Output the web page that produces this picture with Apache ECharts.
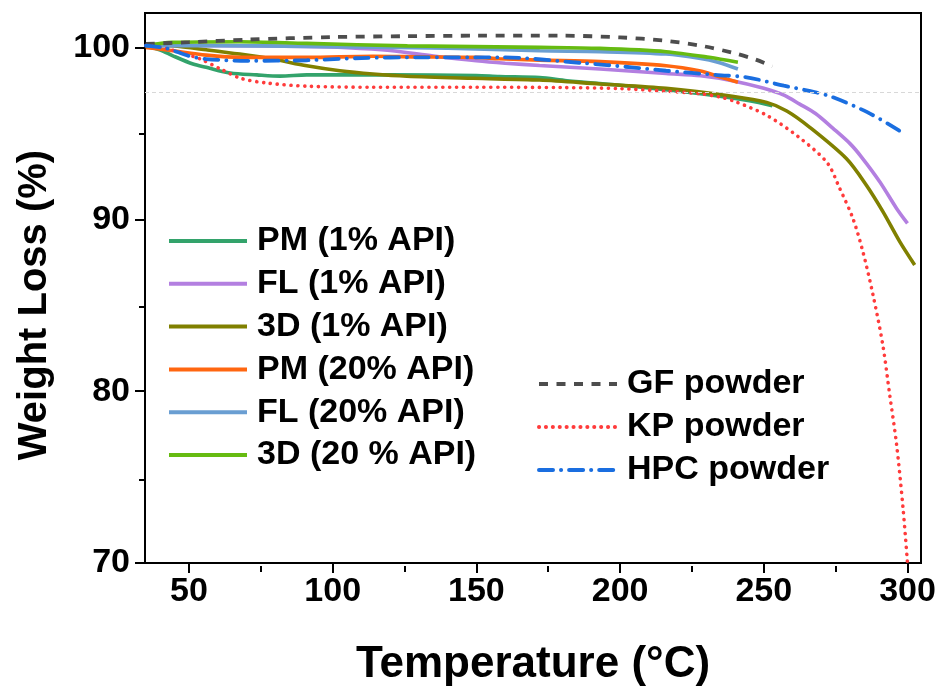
<!DOCTYPE html>
<html>
<head>
<meta charset="utf-8">
<script src="https://cdn.jsdelivr.net/npm/echarts@6/dist/echarts.min.js"></script>
<style>html,body{margin:0;padding:0;background:#fff;}#c{width:940px;height:692px;}</style>
</head>
<body>
<div id="c"></div>
<script>
// ---- data (temperature °C, weight %) ----
const xTicks = [50, 100, 150, 200, 250, 300];
const xMinorTicks = [75, 125, 175, 225, 275];
const yTicks = [70, 80, 90, 100];
const yMinorTicks = [75, 85, 95];
const refLine = 97.4;

const seriesNames = ['PM (1% API)', 'FL (1% API)', '3D (1% API)', 'PM (20% API)', 'FL (20% API)', '3D (20 % API)'];
const powderNames = ['GF powder', 'KP powder', 'HPC powder'];

const pm1 = [[35,100.05],[40,99.85],[44.4,99.51],[51.4,99.03],[56,98.84],[64.3,98.51],[73.6,98.4],[81.7,98.33],[91,98.4],[120,98.4],[150,98.36],[158,98.3],[172,98.24],[181.5,98.06],[204,97.74],[228,97.3],[245,96.9],[253,96.61]];
const fl1 = [[35,100.1],[60,100.1],[90,100.05],[105,99.98],[120,99.82],[135,99.5],[150,99.22],[160,99.08],[172,98.95],[193,98.74],[216,98.48],[228,98.35],[239,98.06],[250,97.62],[257,97.22],[262.5,96.7],[268,96.15],[274,95.3],[280,94.4],[284,93.62],[290.4,92.17],[296.2,90.63],[300,89.76]];
const d3_1 = [[35,100.2],[44.4,100.09],[56,99.86],[67.7,99.61],[79.2,99.32],[91,98.93],[102.5,98.64],[114,98.45],[125.8,98.32],[148.8,98.2],[172,98.1],[193,97.87],[216,97.62],[239,97.16],[251,96.8],[258,96.3],[266,95.35],[278.8,93.52],[285.7,91.98],[291.5,90.43],[297.3,88.7],[302.5,87.34]];
const pm20 = [[35,100.0],[44.4,99.8],[56,99.55],[67.7,99.42],[91,99.42],[114,99.48],[130,99.45],[150,99.42],[158,99.34],[172,99.26],[193,99.17],[216,98.93],[228,98.62],[234,98.32],[241,97.97]];
const fl20 = [[35,100.1],[60,100.1],[91,100.06],[140,99.95],[172,99.8],[193,99.75],[216,99.61],[228,99.35],[234,99.13],[241,98.74]];
const d3_20 = [[35,100.1],[44,100.29],[67.7,100.33],[91,100.23],[126,100.09],[172,100.0],[193,99.94],[216,99.75],[231,99.42],[241,99.13]];
const gf = [[35,100.2],[50,100.3],[70,100.45],[100,100.6],[125,100.65],[150,100.68],[180,100.68],[200,100.58],[215,100.4],[228,100.1],[240,99.65],[247,99.3],[253,98.9]];
const kp = [[35,100.1],[40,100.0],[43,99.9],[48,99.65],[54,99.32],[61,98.74],[68,98.2],[77,97.93],[91,97.74],[114,97.68],[150,97.68],[180,97.66],[200,97.6],[216,97.45],[228,97.3],[235,97.1],[240,96.85],[251,96.05],[262,94.8],[272,93.3],[276.4,91.8],[281,90.05],[284.5,88.1],[288,85.6],[291.4,82.7],[293.8,79.8],[296.2,76.9],[298.5,73.1],[300,70]];
const hpc = [[35,100.1],[42,99.95],[50,99.5],[56,99.32],[70,99.22],[91,99.25],[110,99.38],[130,99.42],[158,99.42],[187,99.09],[204,98.84],[216,98.64],[234,98.39],[244,98.26],[257,97.77],[268,97.39],[274,97.1],[286,96.23],[297,95.17],[299,94.9]];

const colors = ['#33a36b', '#b37fe0', '#808000', '#ff6610', '#6a9ed2', '#66bb11'];
const powderColors = ['#4d4d4d', '#ff3b3b', '#1a6ee0'];

const FONT = '"Liberation Sans", Arial, sans-serif';
const xMin = 34.7, xMax = 304.7, yMin = 70, yMax = 102;

const solidData = [pm1, fl1, d3_1, pm20, fl20, d3_20];
const powderData = [gf, kp, hpc];
const powderDash = [[9, 8.5], [0.1, 6.8], [14, 8, 0.1, 8]];
const powderWidth = [3.8, 3.6, 3.8];

const series = [];
solidData.forEach((d, i) => {
  series.push({
    name: seriesNames[i], type: 'line', data: d, xAxisIndex: 0, yAxisIndex: 0,
    symbol: 'none', showSymbol: false, smooth: 0.3,
    lineStyle: { color: colors[i], width: 3.6 }, itemStyle: { color: colors[i] }
  });
});
powderData.forEach((d, i) => {
  const s = {
    name: powderNames[i], type: 'line', data: d, xAxisIndex: 0, yAxisIndex: 0,
    symbol: 'none', showSymbol: false, smooth: 0.3,
    lineStyle: { color: powderColors[i], width: powderWidth[i], type: powderDash[i], cap: i === 0 ? 'butt' : 'round' },
    itemStyle: { color: powderColors[i] }
  };
  if (i === 0) {
    s.markLine = {
      silent: true, symbol: ['none', 'none'], label: { show: false },
      lineStyle: { color: '#d8d8d8', type: [4, 3], width: 1 },
      data: [{ yAxis: refLine }]
    };
  }
  series.push(s);
});

const legendText = { color: '#000', fontSize: 34, fontWeight: 'bold', fontFamily: FONT, lineHeight: 34, padding: [0, 0, 0, 5] };

const chart = echarts.init(document.getElementById('c'), null, { renderer: 'canvas' });
const gridRect = { left: 145, top: 13, right: 19, bottom: 126 };
chart.setOption({
  animation: false,
  backgroundColor: '#fff',
  grid: [
    Object.assign({ show: true, borderColor: '#000', borderWidth: 2, containLabel: false }, gridRect),
    Object.assign({ show: false, containLabel: false }, gridRect)
  ],
  xAxis: [
    {
      type: 'value', gridIndex: 0, min: xMin, max: xMax, position: 'bottom',
      axisLine: { show: true, onZero: false, lineStyle: { color: '#000', width: 2 } },
      axisTick: { show: true, inside: false, length: 10, customValues: xTicks, lineStyle: { color: '#000', width: 2 } },
      axisLabel: { customValues: xTicks, color: '#000', fontSize: 34, fontWeight: 'bold', fontFamily: FONT, margin: 12 },
      splitLine: { show: false },
      name: 'Temperature (\u00B0C)', nameLocation: 'middle', nameGap: 80,
      nameTextStyle: { color: '#000', fontSize: 44, fontWeight: 'bold', fontFamily: FONT }
    },
    {
      type: 'value', gridIndex: 1, min: xMin, max: xMax, position: 'bottom',
      axisLine: { show: false, onZero: false },
      axisTick: { show: true, inside: false, length: 6, customValues: xMinorTicks, lineStyle: { color: '#000', width: 2 } },
      axisLabel: { show: false }, splitLine: { show: false }
    }
  ],
  yAxis: [
    {
      type: 'value', gridIndex: 0, min: yMin, max: yMax, position: 'left',
      axisLine: { show: true, onZero: false, lineStyle: { color: '#000', width: 2 } },
      axisTick: { show: true, inside: false, length: 10, customValues: yTicks, lineStyle: { color: '#000', width: 2 } },
      axisLabel: { customValues: yTicks, color: '#000', fontSize: 34, fontWeight: 'bold', fontFamily: FONT, margin: 15 },
      splitLine: { show: false },
      name: 'Weight Loss (%)', nameLocation: 'middle', nameGap: 90,
      nameTextStyle: { color: '#000', fontSize: 40, fontWeight: 'bold', fontFamily: FONT, padding: [0, 34, 0, 0] }
    },
    {
      type: 'value', gridIndex: 1, min: yMin, max: yMax, position: 'left',
      axisLine: { show: false, onZero: false },
      axisTick: { show: true, inside: false, length: 6, customValues: yMinorTicks, lineStyle: { color: '#000', width: 2 } },
      axisLabel: { show: false }, splitLine: { show: false }
    }
  ],
  legend: [
    {
      data: seriesNames, orient: 'vertical', left: 167, top: 224, padding: 0,
      itemWidth: 78, itemHeight: 14, itemGap: 8.8, selectedMode: false,
      itemStyle: { opacity: 0 }, lineStyle: { width: 4 },
      textStyle: legendText
    },
    {
      data: powderNames, orient: 'vertical', left: 537, top: 367, padding: 0,
      itemWidth: 78, itemHeight: 14, itemGap: 9, selectedMode: false,
      itemStyle: { opacity: 0 }, lineStyle: { width: 4 },
      textStyle: legendText
    }
  ],
  series: series
});
</script>
</body>
</html>
